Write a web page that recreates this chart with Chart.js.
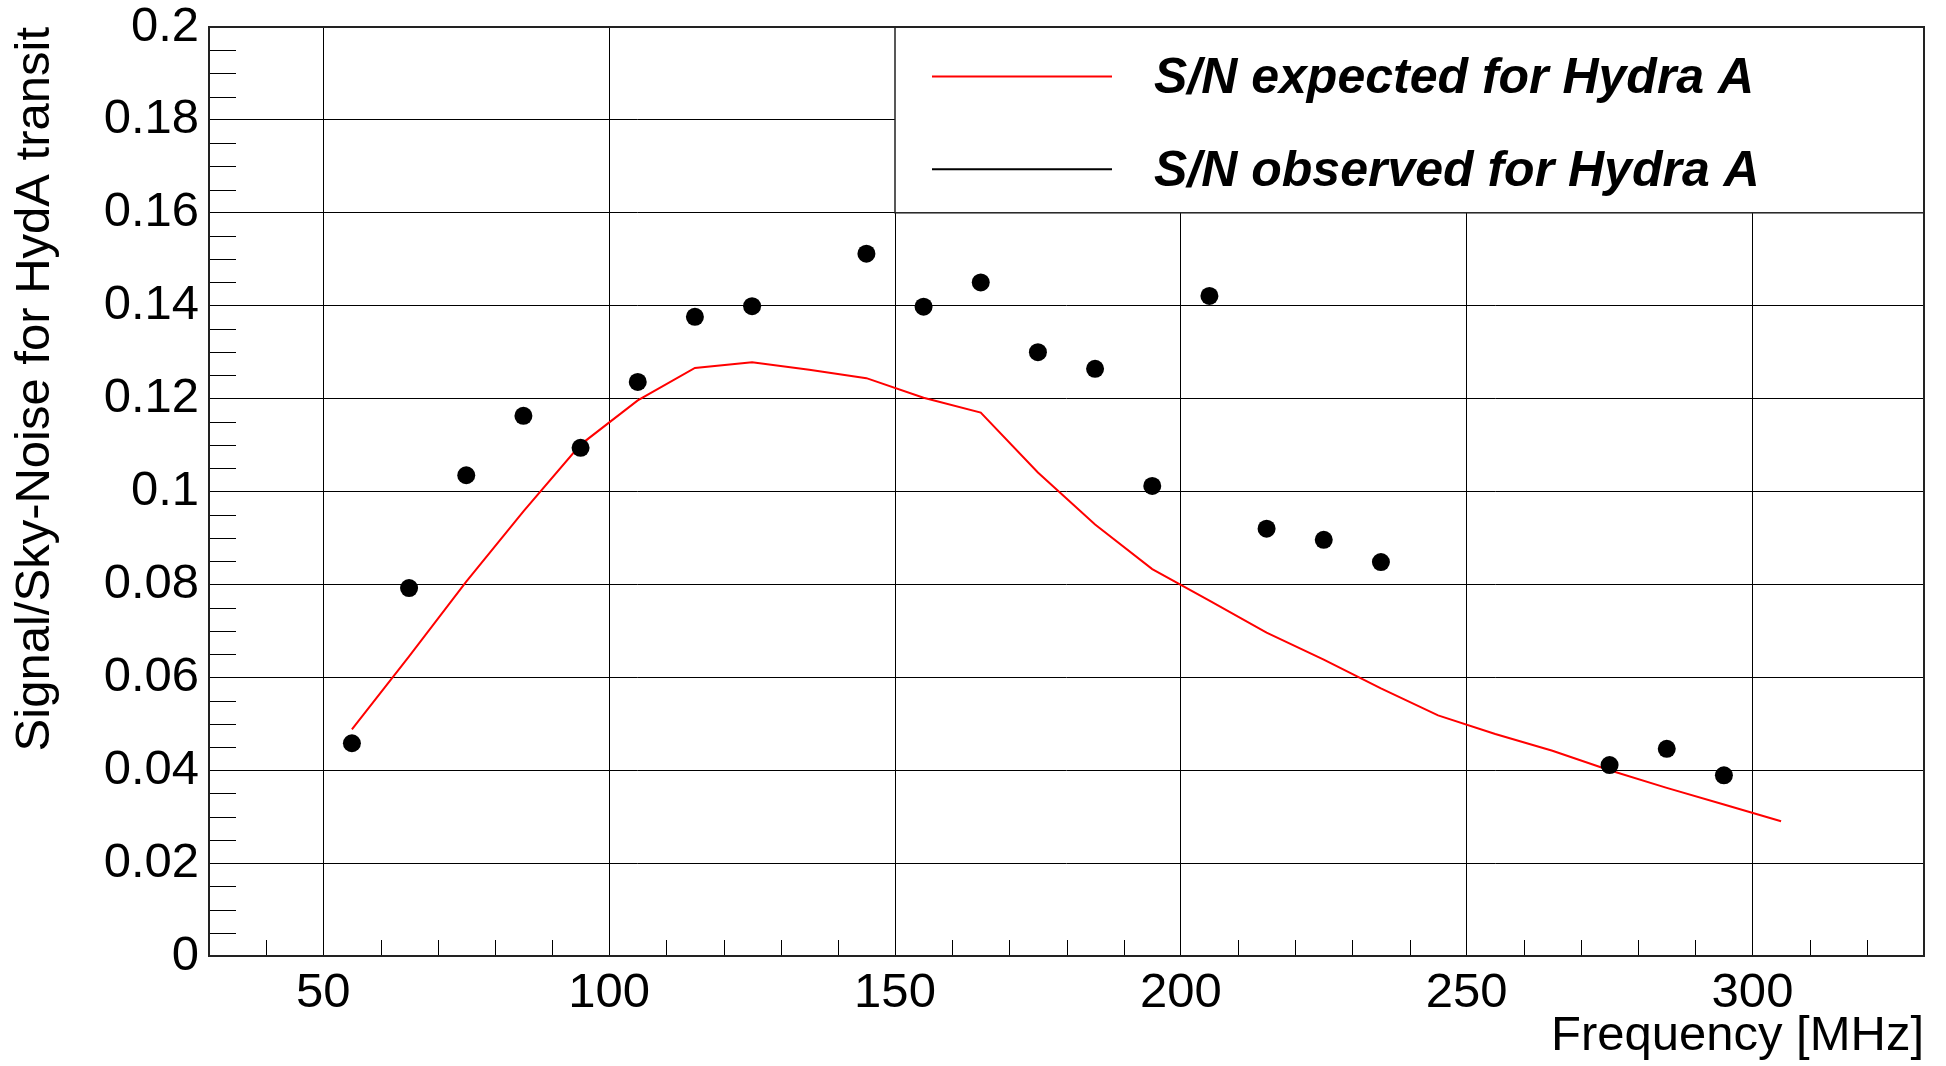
<!DOCTYPE html>
<html>
<head>
<meta charset="utf-8">
<title>Signal/Sky-Noise for HydA transit</title>
<script src="https://cdn.jsdelivr.net/npm/chart.js@4.4.0/dist/chart.umd.min.js"></script>
<style>
  html, body { margin: 0; padding: 0; background: #fff; }
</style>
</head>
<body>
<canvas id="snChart" width="1946" height="1066"></canvas>
<script>
// expected S/N curve, one value every 10 MHz
const expectedFreq = [55, 65, 75, 85, 95, 105, 115, 125, 135, 145, 155, 165, 175,
                      185, 195, 205, 215, 225, 235, 245, 255, 265, 275, 285, 295, 305];
const expectedSN = [0.0488, 0.0645, 0.0806, 0.0957, 0.1101, 0.1196, 0.1266, 0.1278, 0.1262,
                    0.1244, 0.1202, 0.1170, 0.1041, 0.0929, 0.0833, 0.0765, 0.0696, 0.0638,
                    0.0576, 0.0518, 0.0478, 0.0442, 0.0400, 0.0362, 0.0326, 0.0290];

// measured S/N per band (no data in the gaps)
const observedFreq = [55, 65, 75, 85, 95, 105, 115, 125, 145, 155, 165, 175,
                      185, 195, 205, 215, 225, 235, 275, 285, 295];
const observedSN = [0.0458, 0.0792, 0.1035, 0.1163, 0.1094, 0.1236, 0.1376, 0.1399, 0.1512,
                    0.1398, 0.1450, 0.1300, 0.1264, 0.1012, 0.1421, 0.0920, 0.0896, 0.0848,
                    0.0411, 0.0446, 0.0389];

const xTickValues = [50, 100, 150, 200, 250, 300];
const yTickValues = [0, 0.02, 0.04, 0.06, 0.08, 0.1, 0.12, 0.14, 0.16, 0.18, 0.2];
const legendLabels = ['S/N expected for Hydra A', 'S/N observed for Hydra A'];
const legendColors = ['#ff0000', '#000000'];

const FONT = '"Liberation Sans", Helvetica, Arial, sans-serif';

// minor ticks inside the frame, legend box and frame border
const rootFrame = {
  id: 'rootFrame',
  beforeDatasetsDraw(chart) {
    const { ctx, chartArea: a, scales: { x, y } } = chart;
    ctx.save();
    ctx.strokeStyle = '#000';
    ctx.lineWidth = 1;
    ctx.beginPath();
    for (let v = 40; v < x.max; v += 10) {
      if (v % 50 === 0) continue;
      const px = Math.round(x.getPixelForValue(v)) + 0.5;
      ctx.moveTo(px, a.bottom);
      ctx.lineTo(px, a.bottom - 16);
    }
    for (let i = 1; i < 40; i++) {
      if (i % 4 === 0) continue;
      const py = Math.round(y.getPixelForValue(i * 0.005)) + 0.5;
      ctx.moveTo(a.left, py);
      ctx.lineTo(a.left + 27, py);
    }
    ctx.stroke();
    ctx.restore();
  },
  afterDatasetsDraw(chart) {
    const { ctx, chartArea: a, scales: { x, y } } = chart;
    ctx.save();

    // legend box spans 150 MHz .. right edge, 0.16 .. top
    const bx = x.getPixelForValue(150);
    const by = a.top;
    const bw = a.right - bx;
    const bh = y.getPixelForValue(0.16) - by;
    ctx.fillStyle = '#fff';
    ctx.fillRect(bx, by, bw, bh);
    ctx.strokeStyle = '#222';
    ctx.lineWidth = 1.5;
    ctx.strokeRect(bx, by, bw, bh);

    ctx.font = 'italic bold 50px ' + FONT;
    ctx.textAlign = 'left';
    ctx.textBaseline = 'middle';
    legendLabels.forEach((label, i) => {
      const ry = by + bh * (i === 0 ? 0.255 : 0.755) + 2;
      ctx.strokeStyle = legendColors[i];
      ctx.lineWidth = 2;
      ctx.beginPath();
      ctx.moveTo(bx + 37, ry);
      ctx.lineTo(bx + 217, ry);
      ctx.stroke();
      ctx.fillStyle = '#000';
      ctx.fillText(label, bx + 259, ry + 3);
    });

    // frame
    ctx.strokeStyle = '#222';
    ctx.lineWidth = 2;
    ctx.strokeRect(a.left, a.top, a.right - a.left, a.bottom - a.top);
    ctx.restore();
  }
};

// fixed axis sizes so the plot area sits where the layout padding puts it
function fitX(s) {
  s.height = 110;
  s.paddingLeft = 0;
  s.paddingRight = 0;
}
function fitY(s) {
  s.width = 209;
  s.paddingTop = 0;
  s.paddingBottom = 0;
}

const ctx = document.getElementById('snChart').getContext('2d');
const snChart = new Chart(ctx, {
  type: 'scatter',
  data: {
    datasets: [
      {
        label: legendLabels[0],
        data: expectedFreq.map((f, i) => ({ x: f, y: expectedSN[i] })),
        showLine: true,
        borderColor: '#ff0000',
        borderWidth: 2,
        pointRadius: 0,
        tension: 0,
        order: 2,
      },
      {
        label: legendLabels[1],
        data: observedFreq.map((f, i) => ({ x: f, y: observedSN[i] })),
        showLine: false,
        pointRadius: 9,
        pointBackgroundColor: '#000',
        pointBorderWidth: 0,
        order: 1,
      },
    ],
  },
  options: {
    responsive: false,
    animation: false,
    devicePixelRatio: 1,
    layout: { padding: { top: 27, right: 22, left: 0, bottom: 0 } },
    plugins: {
      legend: { display: false },
      tooltip: { enabled: false },
    },
    scales: {
      x: {
        type: 'linear',
        min: 30,
        max: 330,
        afterBuildTicks: s => { s.ticks = xTickValues.map(v => ({ value: v })); },
        afterFit: fitX,
        grid: { color: '#000', lineWidth: 1, drawTicks: false },
        border: { display: false },
        ticks: {
          color: '#000',
          font: { family: FONT, size: 49 },
          padding: 8,
          maxRotation: 0,
          autoSkip: false,
        },
        title: {
          display: true,
          text: 'Frequency [MHz]',
          align: 'end',
          color: '#000',
          font: { family: FONT, size: 49 },
          padding: 0,
        },
      },
      y: {
        type: 'linear',
        min: 0,
        max: 0.2,
        afterBuildTicks: s => { s.ticks = yTickValues.map(v => ({ value: v })); },
        afterFit: fitY,
        grid: { color: '#000', lineWidth: 1, drawTicks: false },
        border: { display: false },
        ticks: {
          color: '#000',
          font: { family: FONT, size: 49 },
          padding: 10,
          autoSkip: false,
          callback: v => String(+v.toFixed(2)),
        },
        title: {
          display: true,
          text: 'Signal/Sky-Noise for HydA transit',
          align: 'end',
          color: '#000',
          font: { family: FONT, size: 49 },
          padding: { top: 6, bottom: 0 },
        },
      },
    },
  },
  plugins: [rootFrame],
});
</script>
</body>
</html>
